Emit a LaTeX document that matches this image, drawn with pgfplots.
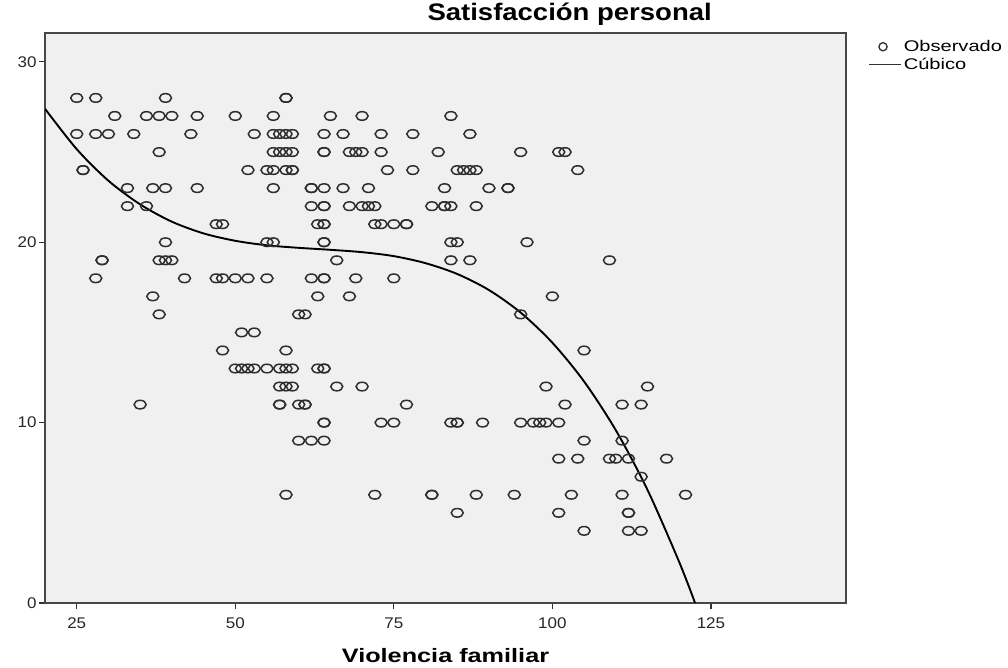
\documentclass[border=0pt]{standalone}
\usepackage{fontspec}
\setmainfont{Liberation Sans}
\newfontfamily\stretchfont{Liberation Sans}[FakeStretch=1.3]
\newfontfamily\tickfont{Liberation Sans}[FakeStretch=1.1]
\newfontfamily\titlefont{Liberation Sans}[FakeStretch=1.15]
\usepackage{pgfplots}
\usepackage{pgfplotstable}
\pgfplotsset{compat=1.18}
\definecolor{bgray}{HTML}{F0F0F0}
\definecolor{mk}{HTML}{2E2E2E}

\pgfplotstableread{
x y
25 28
28 28
39 28
58 28
58 28
31 27
36 27
38 27
40 27
44 27
50 27
56 27
65 27
70 27
84 27
25 26
28 26
30 26
34 26
43 26
53 26
56 26
57 26
58 26
59 26
64 26
67 26
73 26
78 26
87 26
38 25
56 25
57 25
58 25
59 25
64 25
64 25
68 25
69 25
70 25
73 25
82 25
95 25
101 25
102 25
26 24
26 24
52 24
55 24
56 24
58 24
59 24
59 24
74 24
78 24
85 24
86 24
87 24
88 24
104 24
33 23
37 23
39 23
44 23
56 23
62 23
62 23
64 23
67 23
71 23
83 23
90 23
93 23
93 23
33 22
36 22
62 22
64 22
64 22
68 22
70 22
71 22
72 22
81 22
83 22
83 22
84 22
88 22
47 21
48 21
63 21
64 21
64 21
72 21
73 21
75 21
77 21
77 21
39 20
55 20
56 20
64 20
64 20
84 20
85 20
96 20
29 19
29 19
38 19
39 19
40 19
66 19
84 19
87 19
109 19
28 18
42 18
47 18
48 18
50 18
52 18
55 18
62 18
64 18
64 18
69 18
75 18
37 17
63 17
68 17
100 17
38 16
60 16
61 16
95 16
51 15
53 15
48 14
58 14
105 14
50 13
51 13
52 13
53 13
55 13
57 13
58 13
59 13
63 13
64 13
64 13
57 12
58 12
59 12
66 12
70 12
99 12
115 12
35 11
57 11
57 11
60 11
61 11
61 11
77 11
102 11
111 11
114 11
64 10
64 10
73 10
75 10
84 10
85 10
85 10
89 10
95 10
97 10
98 10
99 10
101 10
60 9
62 9
64 9
105 9
111 9
101 8
104 8
109 8
110 8
112 8
118 8
114 7
58 6
72 6
81 6
81 6
88 6
94 6
103 6
111 6
121 6
85 5
101 5
112 5
112 5
105 4
112 4
114 4
}\observed

\pgfplotstableread{
x y
20 27.40
25 25.16
30 23.41
35 22.10
40 21.14
45 20.49
50 20.08
55 19.83
60 19.69
65 19.58
70 19.45
75 19.23
80 18.84
85 18.24
90 17.35
95 16.10
100 14.43
105 12.28
110 9.58
115 6.27
120 2.27
122.5 0.00
}\cubic

\begin{document}
\begin{tikzpicture}
\useasboundingbox (0,0) rectangle (1008bp,668bp);
\begin{axis}[
  at={(45bp,65bp)}, anchor=south west,
  width=801bp, height=570bp, scale only axis,
  xmin=20, xmax=146.3, ymin=0, ymax=31.6,
  xtick={25,50,75,100,125}, ytick={0,10,20,30},
  tick pos=left, tick align=outside, major tick length=6bp,
  axis background/.style={fill=bgray},
  axis line style={black!72, line width=1.2bp},
  every tick/.style={black!80, line width=1.2bp},
  /pgf/number format/assume math mode=true,
  ticklabel style={font=\tickfont\fontsize{15.5}{17}\selectfont, text=black!85},
  xticklabel style={yshift=-5bp},
  yticklabel style={xshift=1bp},
  xlabel={Violencia familiar},
  xlabel style={font=\stretchfont\bfseries\fontsize{19.5}{22}\selectfont,
    at={(axis description cs:0.5,0)}, anchor=base, yshift=-59bp},
  title={Satisfacción personal},
  title style={font=\titlefont\bfseries\fontsize{24}{26}\selectfont,
    at={(axis description cs:0.655,1)}, anchor=base, yshift=7bp},
  legend style={at={(axis description cs:1.0275,0.99)}, anchor=north west,
    draw=none, fill=none, inner sep=0pt,
    font=\stretchfont\fontsize{15.5}{17}\selectfont,
    row sep=2bp,
    nodes={inner xsep=2bp, inner ysep=1.5bp}},
  legend cell align=left,
  clip=true,
]
\addplot[only marks, mark=o, mark size=4.3bp, draw=mk,
  mark options={xscale=1.4, line width=1.5bp, draw=mk},
  legend image code/.code={
    \path (0bp,0) (32bp,0);
    \draw[mk, line width=1.3bp] (14bp,0) circle[radius=4.1bp];}
  ] table[x=x,y=y] {\observed};
\addlegendentry{Observado}
\addplot[black, line width=1.9bp, smooth, no marks,
  legend image code/.code={\draw[black!80, line width=1.6bp] (0bp,0) -- (32bp,0);}
  ] table[x=x,y=y] {\cubic};
\addlegendentry{Cúbico}
\end{axis}
\end{tikzpicture}
\end{document}
